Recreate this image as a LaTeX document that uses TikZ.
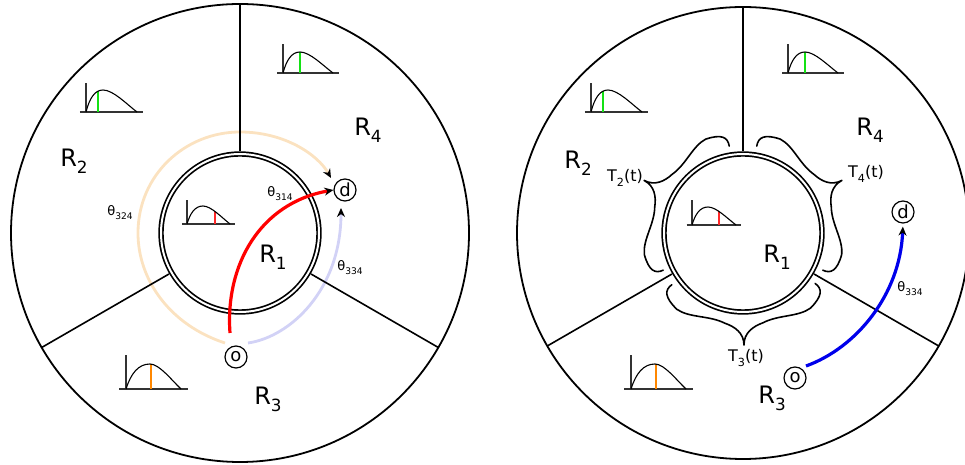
\documentclass[tikz,border=0pt]{standalone}
\usepackage{fontspec}
\setmainfont{DejaVu Sans}
\usepackage{graphicx}
\usetikzlibrary{calc,arrows.meta}
\definecolor{lightorange}{RGB}{251,226,192}
\definecolor{lightlav}{RGB}{210,210,246}
\definecolor{markgreen}{RGB}{20,225,20}
\definecolor{markred}{RGB}{255,40,40}
\definecolor{markorange}{RGB}{255,135,0}
\definecolor{pathblue}{RGB}{0,0,235}
\definecolor{pathred}{RGB}{255,0,0}
\newcommand\lsub[1]{\raisebox{-0.3em}{\scalebox{0.7}{#1}}}
% #1 x, #2 y (origin), #3 peak x, #4 peak y, #5 end x, #6 axis height, #7 marker x, #8 colour
\newcommand\distplot[8]{%
\begin{scope}[shift={(#1,#2)}]
\draw[plotaxis] (0,0) -- (0,#6);
\draw[plotaxis] ({-0.12*#5},0) -- ({1.12*#5},0);
\begin{scope}
\clip (0,0) .. controls ({0.2*#3},{0.6*#4}) and ({0.5*#3},#4) .. (#3,#4) .. controls ({#3+0.3*(#5-#3)},#4) and ({#3+0.7*(#5-#3)},{0.35*#4}) .. (#5,0) -- cycle;
\draw[#8, line width=1.3pt] (#7,0) -- (#7,{#4+5});
\end{scope}
\draw[plotcurve] (0,0) .. controls ({0.2*#3},{0.6*#4}) and ({0.5*#3},#4) .. (#3,#4) .. controls ({#3+0.3*(#5-#3)},#4) and ({#3+0.7*(#5-#3)},{0.35*#4}) .. (#5,0);
\end{scope}}
% #1 centre, #2 start angle, #3 end angle
\newcommand\pbp[2]{($(\pbc)+({\pbs+#1*\pbd}:#2)$)}
\newcommand\polarbrace[3]{%
\def\pbc{#1}\pgfmathsetmacro\pbs{#2}\pgfmathsetmacro\pbd{#3-#2}%
\draw[bracestyle] \pbp{0}{88}
  .. controls \pbp{0}{97} and \pbp{0.03}{101.5} .. \pbp{0.12}{101}
  .. controls \pbp{0.2}{100.5} and \pbp{0.29}{89} .. \pbp{0.39}{92}
  .. controls \pbp{0.45}{94} and \pbp{0.5}{100} .. \pbp{0.5}{112}
  .. controls \pbp{0.5}{100} and \pbp{0.55}{94} .. \pbp{0.61}{92}
  .. controls \pbp{0.71}{89} and \pbp{0.8}{100.5} .. \pbp{0.88}{101}
  .. controls \pbp{0.97}{101.5} and \pbp{1}{97} .. \pbp{1}{88};
}
\begin{document}
\begin{tikzpicture}[x=1pt,y=1pt,
  outer/.style={line width=1.8pt},
  divider/.style={line width=1.6pt},
  ring/.style={draw=black, double=white, double distance=2pt, line width=1.7pt},
  rlabel/.style={font=\fontsize{24}{26}\selectfont, inner sep=0pt},
  thlabel/.style={font=\fontsize{13}{14}\selectfont, inner sep=0pt},
  tlabel/.style={font=\fontsize{16}{18}\selectfont, inner sep=0pt},
  endpoint/.style={draw, circle, line width=1.2pt, inner sep=0pt, minimum size=22pt, font=\fontsize{18}{18}\selectfont},
  plotaxis/.style={line width=1.1pt, black!80},
  plotcurve/.style={line width=1.1pt},
  bracestyle/.style={line width=1.6pt, line join=round, line cap=round},
  tipblack/.style={-{Stealth[black,length=9pt,width=8pt]}},
  lightpath/.style={line width=2.8pt, tipblack},
  strongpath/.style={line width=3.2pt, tipblack}]
\useasboundingbox (0,0) rectangle (965,465);
\coordinate (C1) at (240,232);
\coordinate (C2) at (743,232);

% ---------------- left picture ----------------
\draw[outer] (C1) circle[radius=229];
\node[endpoint] (d1) at (345,275) {d};
\node[endpoint] (o1) at (236,108) {o};
\coordinate (os) at (225,122);
\coordinate (oe) at (331,287);
\coordinate (bs) at (248,122);
\coordinate (be) at (341,257);
\coordinate (rs) at (230,132);
\draw[lightpath, lightorange] (os) .. controls (170,140) and (138,185) .. (138,232) .. controls (138,290) and (185,333) .. (240,333) .. controls (285,333) and (318,310) .. (oe);
\draw[lightpath, lightlav] (bs) .. controls (290,128) and (341,175) .. (be);
\draw[divider] ($(C1)+(90:82)$) -- ($(C1)+(90:229)$);
\draw[divider] ($(C1)+(210:82)$) -- ($(C1)+(210:229)$);
\draw[divider] ($(C1)+(330:82)$) -- ($(C1)+(330:229)$);
\draw[ring] (C1) circle[radius=79];
\draw[strongpath, pathred] (rs) .. controls (225,200) and (260,262) .. (d1.west);
\distplot{86}{353}{17}{22}{51}{29}{12}{markgreen}
\distplot{283}{392}{17}{21}{50}{29}{17}{markgreen}
\distplot{187}{241}{16}{18}{43}{24}{28}{markred}
\distplot{126}{76}{24}{25}{55}{34}{25}{markorange}
\node[rlabel] (l2) at (74,304) {R\lsub{2}};
\node[rlabel] (l4) at (368,335) {R\lsub{4}};
\node[rlabel] (l1) at (273,208) {R\lsub{1}};
\node[rlabel] (l3) at (268,66) {R\lsub{3}};
\node[thlabel] (t324) at (120,252) {θ\lsub{324}};
\node[thlabel] (t314) at (280,271) {θ\lsub{314}};
\node[thlabel] (t334) at (350,197) {θ\lsub{334}};

% ---------------- right picture ----------------
\draw[outer] (C2) circle[radius=226];
\draw[divider] ($(C2)+(90:82)$) -- ($(C2)+(90:226)$);
\draw[divider] ($(C2)+(210:82)$) -- ($(C2)+(210:226)$);
\draw[divider] ($(C2)+(330:82)$) -- ($(C2)+(330:226)$);
\draw[ring] (C2) circle[radius=79];
\polarbrace{C2}{99}{205}
\polarbrace{C2}{81}{-25}
\polarbrace{C2}{216}{325}
\node[tlabel, anchor=base east] (T2) at (643,283) {T\lsub{2}(t)};
\node[tlabel, anchor=base west] (T4) at (848,287) {T\lsub{4}(t)};
\node[tlabel, anchor=base] (T3) at (746,103) {T\lsub{3}(t)};
\node[endpoint] (d2) at (903,253) {d};
\node[endpoint] (o2) at (795,87) {o};
\coordinate (b2s) at (806,99);
\draw[strongpath, pathblue, shorten >=3pt] (b2s) .. controls (856,117) and (900,170) .. (d2.south);
\distplot{591}{353}{17}{22}{51}{29}{12}{markgreen}
\distplot{788}{392}{17}{21}{50}{29}{17}{markgreen}
\distplot{692}{240}{16}{18}{44}{25}{27}{markred}
\distplot{631}{76}{24}{25}{55}{34}{25}{markorange}
\node[rlabel] (m2) at (578,302) {R\lsub{2}};
\node[rlabel] (m4) at (870,335) {R\lsub{4}};
\node[rlabel] (m1) at (777,208) {R\lsub{1}};
\node[rlabel] (m3) at (772,67) {R\lsub{3}};
\node[thlabel] (u334) at (910,176) {θ\lsub{334}};
\end{tikzpicture}
\end{document}
